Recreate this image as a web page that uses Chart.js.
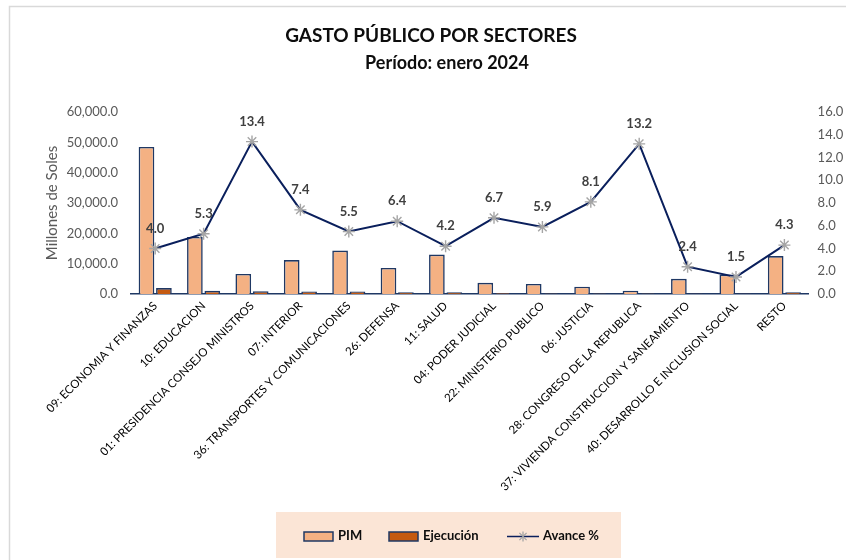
<!DOCTYPE html>
<html>
<head>
<meta charset="utf-8">
<script src="https://cdn.jsdelivr.net/npm/chart.js@4.4.1/dist/chart.umd.min.js"></script>
<style>
  html, body { margin: 0; padding: 0; background: #ffffff; }
  #wrap { width: 846px; height: 560px; position: relative; }
</style>
</head>
<body>
<div id="wrap"><canvas id="c"></canvas></div>
<script>
const categories = [
  "09: ECONOMIA Y FINANZAS",
  "10: EDUCACION",
  "01: PRESIDENCIA CONSEJO MINISTROS",
  "07: INTERIOR",
  "36: TRANSPORTES Y COMUNICACIONES",
  "26: DEFENSA",
  "11: SALUD",
  "04: PODER JUDICIAL",
  "22: MINISTERIO PUBLICO",
  "06: JUSTICIA",
  "28: CONGRESO DE LA REPUBLICA",
  "37: VIVIENDA CONSTRUCCION Y SANEAMIENTO",
  "40: DESARROLLO E INCLUSION SOCIAL",
  "RESTO"
];
const pim = [48500, 18800, 6600, 11200, 14300, 8600, 13000, 3700, 3300, 2400, 1100, 5000, 6400, 12500];
const ejecucion = [1950, 1050, 880, 830, 790, 550, 550, 250, 195, 195, 145, 120, 96, 540];
const avance = [4.0, 5.3, 13.4, 7.4, 5.5, 6.4, 4.2, 6.7, 5.9, 8.1, 13.2, 2.4, 1.5, 4.3];
const leftTicks = [0, 10000, 20000, 30000, 40000, 50000, 60000];
const rightTicks = [0, 2, 4, 6, 8, 10, 12, 14, 16];
const titleLines = ["GASTO PÚBLICO POR SECTORES", "Período: enero 2024"];
const legendLabels = ["PIM", "Ejecución", "Avance %"];

const NAVY = '#1F3864';
const LINE = '#0A1F5C';
const GRAY = '#595959';

function drawStar(ctx, x, y, r) {
  ctx.save();
  ctx.strokeStyle = '#A5A5A5';
  ctx.lineWidth = 1.3;
  const d = r * 0.72;
  ctx.beginPath();
  ctx.moveTo(x - d, y - d); ctx.lineTo(x + d, y + d);
  ctx.moveTo(x + d, y - d); ctx.lineTo(x - d, y + d);
  ctx.moveTo(x, y - r); ctx.lineTo(x, y + r);
  ctx.stroke();
  ctx.restore();
}

const decor = {
  id: 'decor',
  beforeDraw(chart) {
    const ctx = chart.ctx;
    ctx.save();
    ctx.fillStyle = '#ffffff';
    ctx.fillRect(0, 0, chart.width, chart.height);
    ctx.strokeStyle = '#D9D9D9';
    ctx.lineWidth = 1.5;
    ctx.beginPath();
    ctx.moveTo(9.5, chart.height);
    ctx.lineTo(9.5, 6.5);
    ctx.lineTo(chart.width, 6.5);
    ctx.stroke();
    ctx.fillStyle = '#0d0d0d';
    ctx.textAlign = 'center';
    ctx.textBaseline = 'alphabetic';
    ctx.font = 'bold 19px Lato';
    ctx.fillText(titleLines[0], 431, 42);
    ctx.font = 'bold 18px Lato';
    ctx.fillText(titleLines[1], 447, 69);
    ctx.restore();
  },
  afterDatasetsDraw(chart) {
    const ctx = chart.ctx;
    const meta = chart.getDatasetMeta(2);
    ctx.save();
    ctx.font = 'bold 13px Lato';
    ctx.fillStyle = '#404040';
    ctx.textAlign = 'center';
    ctx.textBaseline = 'middle';
    meta.data.forEach((pt, i) => {
      ctx.fillText(avance[i].toFixed(1), pt.x, pt.y - 20);
    });
    ctx.restore();
  },
  afterDraw(chart) {
    const ctx = chart.ctx;
    ctx.save();
    ctx.fillStyle = '#FBE5D6';
    ctx.fillRect(276, 512, 345, 46);
    const cy = 536;
    ctx.lineWidth = 1.5;
    ctx.strokeStyle = NAVY;
    ctx.fillStyle = '#F4B183';
    ctx.fillRect(304, 532, 29, 9);
    ctx.strokeRect(304, 532, 29, 9);
    ctx.fillStyle = '#C55A11';
    ctx.fillRect(389, 532, 29, 9);
    ctx.strokeRect(389, 532, 29, 9);
    ctx.strokeStyle = LINE;
    ctx.beginPath();
    ctx.moveTo(507, cy + 0.5);
    ctx.lineTo(539, cy + 0.5);
    ctx.stroke();
    drawStar(ctx, 523, cy + 0.5, 5);
    ctx.fillStyle = '#0d0d0d';
    ctx.font = 'bold 13px Lato';
    ctx.textAlign = 'left';
    ctx.textBaseline = 'middle';
    ctx.fillText(legendLabels[0], 338, cy);
    ctx.fillText(legendLabels[1], 423, cy);
    ctx.fillText(legendLabels[2], 543, cy);
    ctx.restore();
  }
};

function build() {
  const ctx = document.getElementById('c');
  new Chart(ctx, {
    type: 'bar',
    data: {
      labels: categories,
      datasets: [
        {
          label: legendLabels[0], data: pim, yAxisID: 'y', order: 2,
          backgroundColor: '#F4B183', borderColor: NAVY, borderWidth: 1.6,
          categoryPercentage: 0.72, barPercentage: 0.9
        },
        {
          label: legendLabels[1], data: ejecucion, yAxisID: 'y', order: 2,
          backgroundColor: '#C55A11', borderColor: NAVY, borderWidth: 1.6,
          categoryPercentage: 0.72, barPercentage: 0.9
        },
        {
          type: 'line', label: legendLabels[2], data: avance, yAxisID: 'y1', order: 0,
          borderColor: LINE, borderWidth: 2, tension: 0,
          pointStyle: 'star', pointRadius: 6, pointBorderColor: '#A5A5A5',
          pointBackgroundColor: '#A5A5A5', pointBorderWidth: 1.4
        }
      ]
    },
    options: {
      responsive: true,
      maintainAspectRatio: false,
      animation: false,
      devicePixelRatio: 1,
      layout: { padding: { top: 112, bottom: 50, left: 0, right: 0 } },
      plugins: { legend: { display: false }, title: { display: false }, tooltip: { enabled: false } },
      scales: {
        x: {
          grid: { display: false, drawTicks: false },
          border: { display: true, color: NAVY, width: 1.5 },
          ticks: {
            autoSkip: false, minRotation: 45, maxRotation: 45, padding: 5,
            color: '#000000', font: { family: 'Lato', size: 11.5 }
          },
          afterFit(s) { s.height = 216; }
        },
        y: {
          position: 'left', min: 0, max: 60000,
          grid: { display: false, drawTicks: false },
          border: { display: false },
          afterBuildTicks(s) { s.ticks = leftTicks.map(v => ({ value: v })); },
          ticks: {
            padding: 13, color: GRAY, font: { family: 'Lato', size: 13 },
            callback: v => Number(v).toLocaleString('en-US', { minimumFractionDigits: 1, maximumFractionDigits: 1 })
          },
          title: {
            display: true, text: 'Millones de Soles', color: GRAY,
            font: { family: 'Lato', size: 15 }, padding: { top: 43, bottom: 0 }
          },
          afterFit(s) { s.width = 131; }
        },
        y1: {
          position: 'right', min: 0, max: 16,
          grid: { display: false, drawTicks: false },
          border: { display: false },
          afterBuildTicks(s) { s.ticks = rightTicks.map(v => ({ value: v })); },
          ticks: {
            padding: 9, color: GRAY, font: { family: 'Lato', size: 13 },
            callback: v => Number(v).toFixed(1)
          },
          afterFit(s) { s.width = 37.4; }
        }
      }
    },
    plugins: [decor]
  });
}

const fontLoads = [
  'bold 19px Lato', 'bold 18px Lato', 'bold 13px Lato', '13px Lato', '11.5px Lato', '15px Lato'
].map(f => document.fonts.load(f).catch(() => null));
Promise.all(fontLoads).then(build, build);
</script>
</body>
</html>
